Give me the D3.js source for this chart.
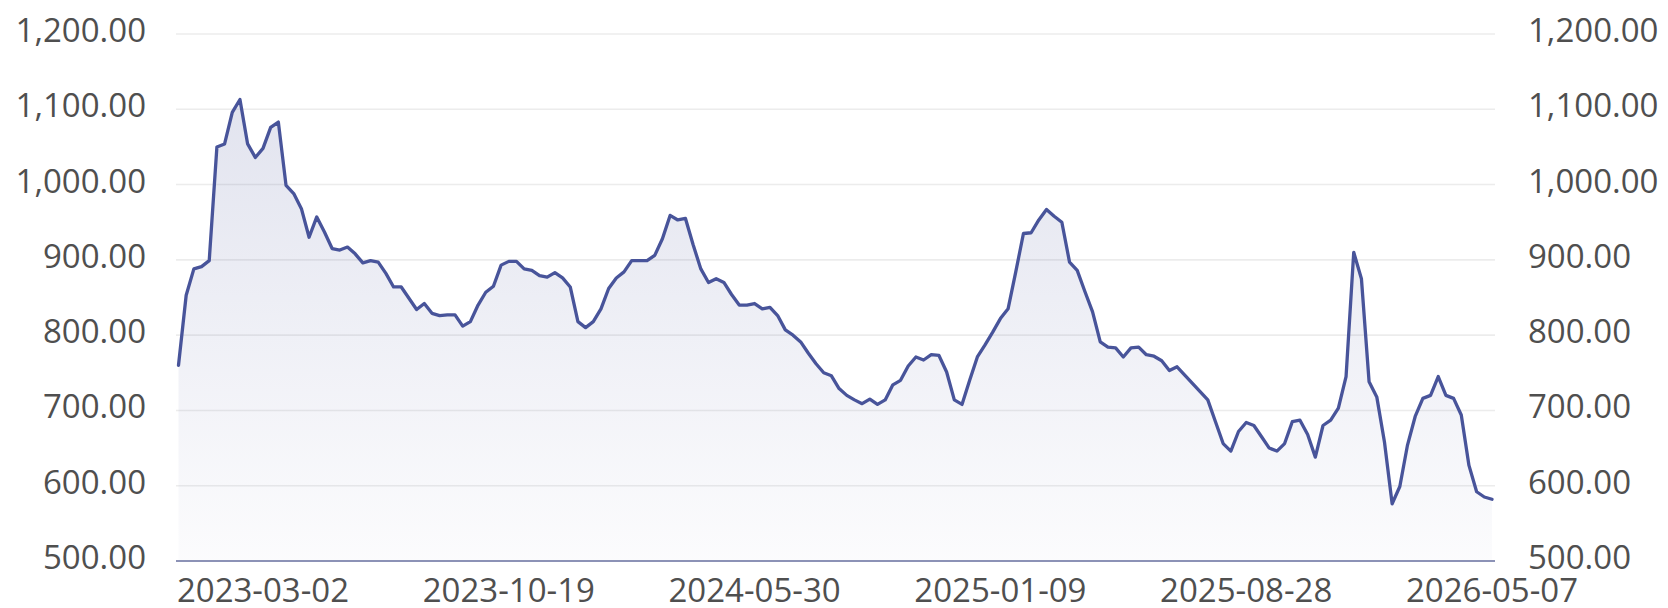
<!DOCTYPE html>
<html>
<head>
<meta charset="utf-8">
<script src="https://cdn.jsdelivr.net/npm/d3@7/dist/d3.min.js"></script>
<style>
  html, body { margin: 0; padding: 0; background: #ffffff; }
  svg { display: block; }
</style>
</head>
<body>
<svg id="chart" width="1668" height="608"></svg>
<script>
// ---- data ----
const values = [
  760, 853, 888, 891, 899, 1050, 1054, 1096, 1113, 1054,
  1036, 1048, 1076, 1083, 999, 988, 968, 930, 957, 937,
  915, 913, 917, 908, 896, 899, 897, 882, 864, 864,
  849, 834, 842, 829, 826, 827, 827, 812, 818, 840,
  857, 865, 893, 898, 898, 888, 886, 879, 877, 883,
  876, 864, 818, 810, 818, 835, 862, 876, 884, 899,
  899, 899, 906, 928, 959, 953, 955, 920, 888, 870,
  875, 870, 854, 840, 840, 842, 835, 837, 826, 807,
  800, 791, 776, 762, 750, 746, 729, 720, 714, 709,
  715, 708, 714, 734, 740, 759, 771, 767, 774, 773,
  751, 714, 708, 740, 771, 787, 804, 822, 835, 884,
  935, 936, 953, 967, 958, 950, 897, 886, 858, 831,
  791, 784, 783, 771, 783, 784, 774, 772, 766, 753,
  758, 747, 736, 725, 714, 685, 656, 646, 672, 684,
  680, 665, 650, 646, 656, 685, 687, 668, 638, 680,
  687, 703, 745, 910, 875, 738, 718, 658, 576, 599,
  654, 692, 716, 720, 745, 720, 716, 694, 627, 592,
  585, 582
];
const tickLabels = ["2023-03-02", "2023-10-19", "2024-05-30", "2025-01-09", "2025-08-28", "2026-05-07"];
const tickIndices = [11, 43, 75, 107, 139, 171];
const yTicks = [500, 600, 700, 800, 900, 1000, 1100, 1200];

// ---- layout ----
const svg = d3.select("#chart");
const gridLeft = 176, gridRight = 1495;
const x = d3.scaleLinear().domain([0, values.length - 1]).range([178.5, 1492]);
const y = d3.scaleLinear().domain([500, 1200]).range([561, 34]);
const lineColor = "#48549a";
const labelColor = "#4f4f4f";
const fontFamily = "'Open Sans', 'Noto Sans', sans-serif";
const fontSize = 33;

// gradient
const defs = svg.append("defs");
const grad = defs.append("linearGradient")
  .attr("id", "areaGrad")
  .attr("gradientUnits", "userSpaceOnUse")
  .attr("x1", 0).attr("x2", 0)
  .attr("y1", y(d3.max(values))).attr("y2", y(500));
grad.append("stop").attr("offset", "0%").attr("stop-color", "rgb(84,94,160)").attr("stop-opacity", 0.17);
grad.append("stop").attr("offset", "100%").attr("stop-color", "rgb(84,94,160)").attr("stop-opacity", 0.02);

// grid lines
svg.append("g").selectAll("line")
  .data(yTicks.filter(d => d !== 500))
  .join("line")
  .attr("x1", gridLeft).attr("x2", gridRight)
  .attr("y1", d => y(d)).attr("y2", d => y(d))
  .attr("stroke", "#ececec")
  .attr("stroke-width", 1.6);

// area
const area = d3.area()
  .x((d, i) => x(i))
  .y0(y(500))
  .y1(d => y(d))
  .curve(d3.curveLinear);
svg.append("path")
  .datum(values)
  .attr("d", area)
  .attr("fill", "url(#areaGrad)");

// line
const line = d3.line()
  .x((d, i) => x(i))
  .y(d => y(d))
  .curve(d3.curveLinear);
svg.append("path")
  .datum(values)
  .attr("d", line)
  .attr("fill", "none")
  .attr("stroke", lineColor)
  .attr("stroke-width", 3.3)
  .attr("stroke-linejoin", "round")
  .attr("stroke-linecap", "round");

// x axis line
svg.append("line")
  .attr("x1", gridLeft).attr("x2", gridRight)
  .attr("y1", y(500)).attr("y2", y(500))
  .attr("stroke", "#8c92b6")
  .attr("stroke-width", 2);

const fmt = d3.format(",.2f");

// left axis labels
svg.append("g").selectAll("text")
  .data(yTicks)
  .join("text")
  .attr("x", 146)
  .attr("y", d => y(d) + 8)
  .attr("text-anchor", "end")
  .attr("font-family", fontFamily)
  .attr("font-size", fontSize)
  .attr("fill", labelColor)
  .text(d => fmt(d));

// right axis labels
svg.append("g").selectAll("text")
  .data(yTicks)
  .join("text")
  .attr("x", 1528)
  .attr("y", d => y(d) + 8)
  .attr("text-anchor", "start")
  .attr("font-family", fontFamily)
  .attr("font-size", fontSize)
  .attr("fill", labelColor)
  .text(d => fmt(d));

// x axis labels
svg.append("g").selectAll("text")
  .data(tickLabels)
  .join("text")
  .attr("x", (d, i) => x(tickIndices[i]))
  .attr("y", 602)
  .attr("text-anchor", "middle")
  .attr("font-family", fontFamily)
  .attr("font-size", fontSize)
  .attr("fill", labelColor)
  .text(d => d);
</script>
</body>
</html>
